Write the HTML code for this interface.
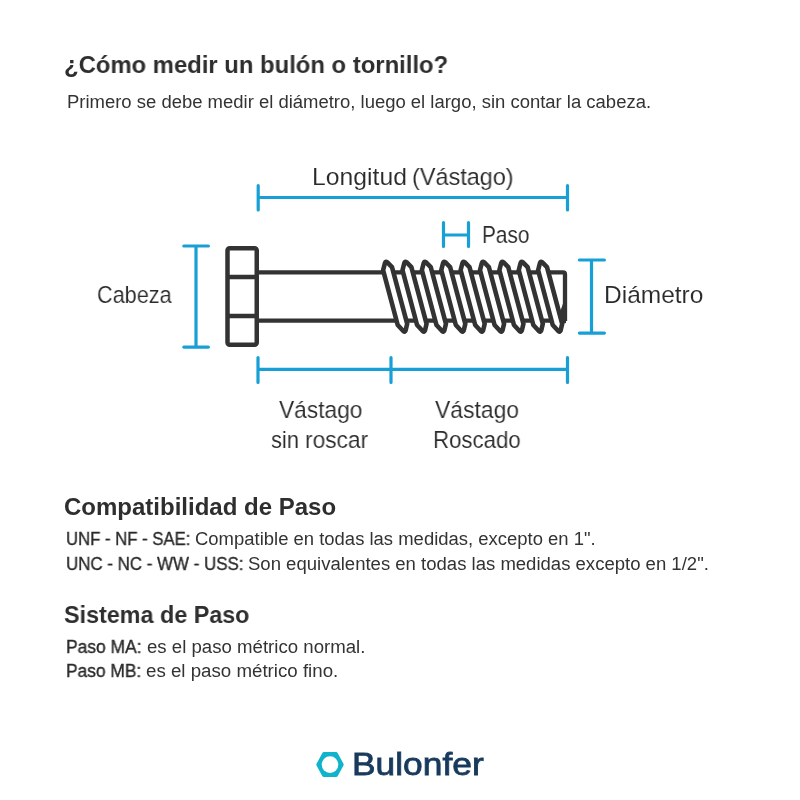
<!DOCTYPE html>
<html><head><meta charset="utf-8"><style>
html,body{margin:0;padding:0;background:#fff;width:800px;height:800px;overflow:hidden}
.t{position:absolute;white-space:nowrap;font-family:"Liberation Sans",sans-serif;transform-origin:0 0;will-change:transform}
svg{position:absolute;left:0;top:0}
</style></head><body>
<svg width="800" height="800" viewBox="0 0 800 800">
<g stroke="#18a0d6" stroke-width="3.2" stroke-linecap="round" fill="none">
<path d="M258.2 197.5 H567.5 M258.2 185.5 V210 M567.5 185.5 V210"/>
<path d="M443.5 235 H468.5 M443.5 222.7 V246.5 M468.5 222.7 V246.5"/>
<path d="M196 246 V347.1 M183.8 246 H208.4 M183.8 347.1 H208.4"/>
<path d="M591.5 260 V333.1 M579.4 260 H604.4 M579.4 333.1 H604.4"/>
<path d="M258 369.4 H567.5 M258 357.5 V382.5 M391 357.5 V382.5 M567.5 357.5 V382.5"/>
</g>
<g stroke="#333333" stroke-width="4.3" fill="none" stroke-linejoin="round">
<path d="M256.75 272.3 H563 Q565 272.3 565 274.3 V321"/>
<path d="M256.75 320.7 H560"/>
</g>
<g stroke="#333333" stroke-width="4.5" fill="#fff" stroke-linejoin="round">
<rect x="227.5" y="248.25" width="29.25" height="96.55" rx="2.2"/>
<path d="M227.5 277.1 H256.75 M227.5 316 H256.75" fill="none"/>
</g>
<g stroke="#333333" stroke-width="4.6" fill="#fff" stroke-linejoin="round">
<path d="M383.10 270.20 L384.90 263.20 Q385.60 261.20 387.10 262.10 L392.00 267.20 L407.20 323.80 L405.60 330.50 Q404.90 332.40 403.50 331.30 L397.70 325.00 Z"/>
<path d="M402.48 270.20 L404.27 263.20 Q404.98 261.20 406.48 262.10 L411.38 267.20 L426.57 323.80 L424.98 330.50 Q424.27 332.40 422.88 331.30 L417.07 325.00 Z"/>
<path d="M421.85 270.20 L423.65 263.20 Q424.35 261.20 425.85 262.10 L430.75 267.20 L445.95 323.80 L444.35 330.50 Q443.65 332.40 442.25 331.30 L436.45 325.00 Z"/>
<path d="M441.23 270.20 L443.02 263.20 Q443.73 261.20 445.23 262.10 L450.12 267.20 L465.32 323.80 L463.73 330.50 Q463.02 332.40 461.62 331.30 L455.82 325.00 Z"/>
<path d="M460.60 270.20 L462.40 263.20 Q463.10 261.20 464.60 262.10 L469.50 267.20 L484.70 323.80 L483.10 330.50 Q482.40 332.40 481.00 331.30 L475.20 325.00 Z"/>
<path d="M479.98 270.20 L481.77 263.20 Q482.48 261.20 483.98 262.10 L488.88 267.20 L504.07 323.80 L502.48 330.50 Q501.77 332.40 500.38 331.30 L494.57 325.00 Z"/>
<path d="M499.35 270.20 L501.15 263.20 Q501.85 261.20 503.35 262.10 L508.25 267.20 L523.45 323.80 L521.85 330.50 Q521.15 332.40 519.75 331.30 L513.95 325.00 Z"/>
<path d="M518.73 270.20 L520.52 263.20 Q521.23 261.20 522.73 262.10 L527.62 267.20 L542.83 323.80 L541.23 330.50 Q540.52 332.40 539.12 331.30 L533.33 325.00 Z"/>
<path d="M538.10 270.20 L539.90 263.20 Q540.60 261.20 542.10 262.10 L547.00 267.20 L562.20 323.80 L560.60 330.50 Q559.90 332.40 558.50 331.30 L552.70 325.00 Z"/>
<path d="M563 303.5 L560.4 311 L561.5 324 L566 323 L566 303.5 Z" fill="#333333" stroke="none"/>
</g>
<g>
<path fill="#10b3cc" stroke="#10b3cc" stroke-width="4" stroke-linejoin="round" d="M318.31 764.6 L324.0 754.1 H336.0 L341.69 764.6 L336.0 775.1 H324.0 Z"/>
<circle cx="330" cy="764.6" r="8.3" fill="#fff"/>
</g>
</svg>
<div class="t" style="left:63.51px;top:52.98px;font-weight:bold;color:#2e2e2e;font-size:24px;line-height:24px;transform:scaleX(0.9935)">¿Cómo medir un bulón o tornillo?</div>
<div class="t" style="left:66.77px;top:92.86px;font-weight:normal;color:#333;font-size:18px;line-height:18px;transform:scaleX(1.0259)">Primero se debe medir el diámetro, luego el largo, sin contar la cabeza.</div>
<div class="t" style="left:311.98px;top:165.26px;font-weight:normal;-webkit-text-stroke:0.1px #fff;color:#2a2a2a;font-size:24.5px;line-height:24.5px;transform:scaleX(1.0099)">Longitud</div>
<div class="t" style="left:412.09px;top:165.26px;font-weight:normal;-webkit-text-stroke:0.1px #fff;color:#2a2a2a;font-size:24.5px;line-height:24.5px;transform:scaleX(0.9563)">(Vástago)</div>
<div class="t" style="left:482.30px;top:223.06px;font-weight:normal;-webkit-text-stroke:0.1px #fff;color:#2a2a2a;font-size:24.5px;line-height:24.5px;transform:scaleX(0.8491)">Paso</div>
<div class="t" style="left:96.92px;top:282.96px;font-weight:normal;-webkit-text-stroke:0.1px #fff;color:#2a2a2a;font-size:24.5px;line-height:24.5px;transform:scaleX(0.8843)">Cabeza</div>
<div class="t" style="left:603.91px;top:282.96px;font-weight:normal;-webkit-text-stroke:0.1px #fff;color:#2a2a2a;font-size:24.5px;line-height:24.5px;transform:scaleX(0.9969)">Diámetro</div>
<div class="t" style="left:278.75px;top:398.06px;font-weight:normal;-webkit-text-stroke:0.1px #fff;color:#2a2a2a;font-size:24.5px;line-height:24.5px;transform:scaleX(0.9275)">Vástago</div>
<div class="t" style="left:270.51px;top:428.46px;font-weight:normal;-webkit-text-stroke:0.1px #fff;color:#2a2a2a;font-size:24.5px;line-height:24.5px;transform:scaleX(0.8914)">sin</div>
<div class="t" style="left:305.15px;top:428.46px;font-weight:normal;-webkit-text-stroke:0.1px #fff;color:#2a2a2a;font-size:24.5px;line-height:24.5px;transform:scaleX(0.9273)">roscar</div>
<div class="t" style="left:435.30px;top:398.06px;font-weight:normal;-webkit-text-stroke:0.1px #fff;color:#2a2a2a;font-size:24.5px;line-height:24.5px;transform:scaleX(0.9348)">Vástago</div>
<div class="t" style="left:432.79px;top:428.46px;font-weight:normal;-webkit-text-stroke:0.1px #fff;color:#2a2a2a;font-size:24.5px;line-height:24.5px;transform:scaleX(0.9074)">Roscado</div>
<div class="t" style="left:64.00px;top:495.18px;font-weight:bold;color:#2e2e2e;font-size:24px;line-height:24px;transform:scaleX(1.0000)">Compatibilidad de Paso</div>
<div class="t" style="left:65.97px;top:530.16px;font-weight:normal;-webkit-text-stroke:0.35px #2a2a2a;color:#2a2a2a;font-size:18px;line-height:18px;transform:scaleX(0.9280)">UNF - NF - SAE:</div>
<div class="t" style="left:195.22px;top:530.16px;font-weight:normal;color:#333;font-size:18px;line-height:18px;transform:scaleX(1.0258)">Compatible en todas las medidas, excepto en 1&quot;.</div>
<div class="t" style="left:65.96px;top:554.66px;font-weight:normal;-webkit-text-stroke:0.35px #2a2a2a;color:#2a2a2a;font-size:18px;line-height:18px;transform:scaleX(0.9390)">UNC - NC - WW - USS:</div>
<div class="t" style="left:248.37px;top:554.66px;font-weight:normal;color:#333;font-size:18px;line-height:18px;transform:scaleX(1.0294)">Son equivalentes en todas las medidas excepto en 1/2&quot;.</div>
<div class="t" style="left:64.03px;top:602.68px;font-weight:bold;color:#2e2e2e;font-size:24px;line-height:24px;transform:scaleX(0.9722)">Sistema de Paso</div>
<div class="t" style="left:65.83px;top:637.76px;font-weight:normal;-webkit-text-stroke:0.35px #2a2a2a;color:#2a2a2a;font-size:18px;line-height:18px;transform:scaleX(0.9684)">Paso MA:</div>
<div class="t" style="left:146.87px;top:637.76px;font-weight:normal;color:#333;font-size:18px;line-height:18px;transform:scaleX(1.0346)">es el paso métrico normal.</div>
<div class="t" style="left:65.84px;top:662.16px;font-weight:normal;-webkit-text-stroke:0.35px #2a2a2a;color:#2a2a2a;font-size:18px;line-height:18px;transform:scaleX(0.9645)">Paso MB:</div>
<div class="t" style="left:146.16px;top:662.16px;font-weight:normal;color:#333;font-size:18px;line-height:18px;transform:scaleX(1.0387)">es el paso métrico fino.</div>
<div class="t" style="left:351.75px;top:748.71px;font-weight:normal;-webkit-text-stroke:0.8px #183a5c;color:#183a5c;font-size:31.4px;line-height:31.4px;transform:scaleX(1.1261)">Bulonfer</div>
</body></html>
